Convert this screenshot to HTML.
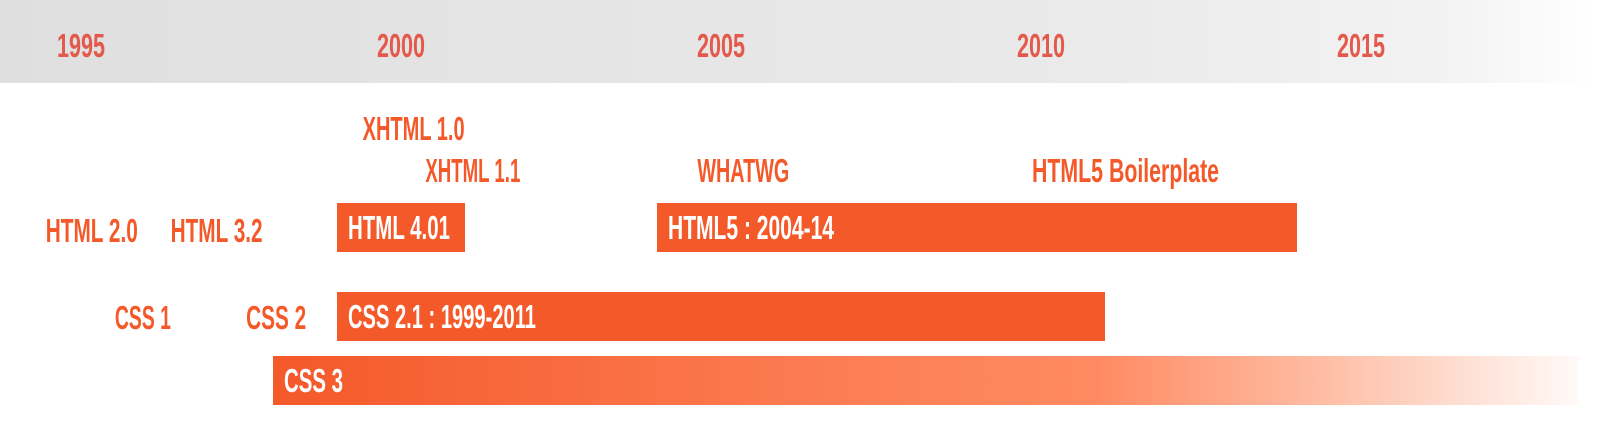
<!DOCTYPE html>
<html><head><meta charset="utf-8"><style>
html,body{margin:0;padding:0;background:#fff;width:1619px;height:432px;overflow:hidden}
svg{display:block}
text{font-family:"Liberation Sans",sans-serif;font-weight:bold}
</style></head><body>
<svg id="chart" width="1619" height="432" xmlns="http://www.w3.org/2000/svg">
<defs>
<linearGradient id="hdr" x1="0" x2="1619" gradientUnits="userSpaceOnUse">
<stop offset="0" stop-color="#dfdfdf"/><stop offset="0.68" stop-color="#eaeaea"/><stop offset="0.9" stop-color="#f3f3f3"/><stop offset="0.985" stop-color="#ffffff"/>
</linearGradient>
<linearGradient id="css3g" x1="274" x2="1600" gradientUnits="userSpaceOnUse">
<stop offset="0" stop-color="#f4592a"/><stop offset="0.45" stop-color="#fd7f56"/><stop offset="0.62" stop-color="#ff8a62"/><stop offset="0.8" stop-color="#fec0a8"/><stop offset="1" stop-color="#ffffff"/>
</linearGradient>
</defs>
<rect x="0" y="0" width="1619" height="83" fill="url(#hdr)"/>
<g id="ticks"></g><g id="bars"></g><g id="labels"></g>
</svg>
<script>
const tickYears=[1995,2000,2005,2010,2015];
const barNames=["HTML 4.01","HTML5 : 2004-14","CSS 2.1 : 1999-2011","CSS 3"];
const barStart=[1999,2004,1999,1998];
const barEnd=[2001,2014,2011,2018.4];
const barRow=[0,0,1,2];
const labelNames=["XHTML 1.0","XHTML 1.1","WHATWG","HTML5 Boilerplate","HTML 2.0","HTML 3.2","CSS 1","CSS 2"];
const labelYear=[1999.4,2000.38,2004.63,2009.86,1994.45,1996.4,1995.53,1997.58];
const labelLevel=[-2,-1,-1,-1,0,0,1,1];

const barTextW=[102,166,188,59];
const labelTextW=[102,95,92,187,92,92,56,60];
const NS="http://www.w3.org/2000/svg";
const x=y=>81+64*(y-1995);
const rowY=r=>[203,292,356][r];
const labelYpos=l=>({"-2":140,"-1":182,"0":242,"1":329})[l];
function mk(tag,attrs,parent){const e=document.createElementNS(NS,tag);for(const k in attrs)e.setAttribute(k,attrs[k]);parent.appendChild(e);return e;}
const tg=document.getElementById('ticks'),bg=document.getElementById('bars'),lg=document.getElementById('labels');
tickYears.forEach(yr=>{
  const t=mk('text',{x:x(yr),y:57,'text-anchor':'middle','font-size':33,'font-weight':'normal',fill:'#e35a4c',textLength:48,lengthAdjust:'spacingAndGlyphs'},tg);
  
  
  t.textContent=yr;
});
barNames.forEach((n,i)=>{
  const x0=x(barStart[i]),x1=x(barEnd[i]),y0=rowY(barRow[i]);
  const r=mk('rect',{x:x0,y:y0,width:x1-x0,height:49,fill:i===3?'url(#css3g)':'#f4592a'},bg);
  
  
  const t=mk('text',{x:x0+11,y:y0+36,'font-size':33,fill:'#ffffff',textLength:barTextW[i],lengthAdjust:'spacingAndGlyphs'},bg);
  
  
  t.textContent=n;
});
labelNames.forEach((n,i)=>{
  const t=mk('text',{x:x(labelYear[i]),y:labelYpos(labelLevel[i]),'font-size':33,fill:'#f4592a',textLength:labelTextW[i],lengthAdjust:'spacingAndGlyphs'},lg);
  
  
  t.textContent=n;
});
</script>
</body></html>
